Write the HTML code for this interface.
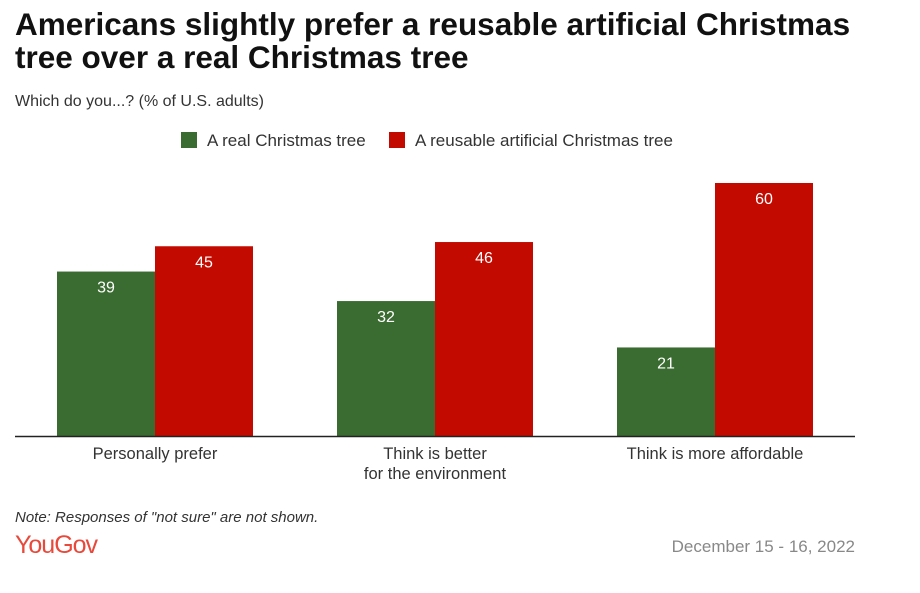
<!DOCTYPE html>
<html><head><meta charset="utf-8"><style>
body{margin:0;background:#fff;font-family:"Liberation Sans",Arial,sans-serif;}
#wrap{position:relative;width:920px;height:593px;overflow:hidden;}
h1{position:absolute;left:15px;top:8px;margin:0;font-size:31.5px;line-height:33px;font-weight:bold;color:#111;letter-spacing:0;}
.sub{position:absolute;left:15px;top:93px;font-size:16px;color:#333;}
.note{position:absolute;left:15px;top:509px;font-size:15px;font-style:italic;color:#333;}
.logo{position:absolute;left:15px;top:531px;font-size:25px;color:#e8493a;letter-spacing:-1px;}
.date{position:absolute;right:65px;top:537px;font-size:17px;color:#888;}
</style></head><body>
<div id="wrap">
<h1>Americans slightly prefer a reusable artificial Christmas<br>tree over a real Christmas tree</h1>
<div class="sub">Which do you...? (% of U.S. adults)</div>
<svg id="chart" width="920" height="593" style="position:absolute;left:0;top:0"></svg>
<div class="note">Note: Responses of "not sure" are not shown.</div>
<div class="logo">YouGov</div>
<div class="date">December 15 - 16, 2022</div>
</div>
<script>
const categories=[["Personally prefer"],["Think is better","for the environment"],["Think is more affordable"]];
const seriesNames=["A real Christmas tree","A reusable artificial Christmas tree"];
const realValues=[39,32,21];
const artificialValues=[45,46,60];
const colors=["#3a6b30","#c30a00"];
const NS="http://www.w3.org/2000/svg";
const svg=document.getElementById('chart');
const baseY=436, pxPerUnit=253/60, bw=98;
const y=v=>baseY-v*pxPerUnit;
const gx=i=>155+i*280;
function mk(t,a){const e=document.createElementNS(NS,t);for(const k in a)e.setAttribute(k,a[k]);svg.appendChild(e);return e;}
const legendX=[181,389];
seriesNames.forEach((n,i)=>{
 const lx=legendX[i];
 const r=mk('rect',{x:lx,y:132,width:16,height:16,fill:colors[i]});
 
 
 const t=mk('text',{x:lx+26,y:146,'font-size':17,fill:'#333'});t.textContent=n;
 
 
});
[realValues,artificialValues].forEach((vals,s)=>{
 vals.forEach((v,i)=>{
  const x=gx(i)-bw+s*bw;
  const r=mk('rect',{x:x,y:y(v),width:bw,height:baseY-y(v),fill:colors[s]});
  
  
  const t=mk('text',{x:x+bw/2,y:y(v)+21,'font-size':16,fill:'#fff','text-anchor':'middle'});t.textContent=v;
  
  
 });
});
const ax=mk('line',{x1:15,x2:855,y1:baseY+0.5,y2:baseY+0.5,stroke:'#222','stroke-width':1.5});


categories.forEach((c,i)=>{
 c.forEach((line,j)=>{
  const t=mk('text',{x:gx(i),y:459+j*20,'font-size':16.5,fill:'#333','text-anchor':'middle'});t.textContent=line;
  
  
 });
});
</script>
</body></html>
